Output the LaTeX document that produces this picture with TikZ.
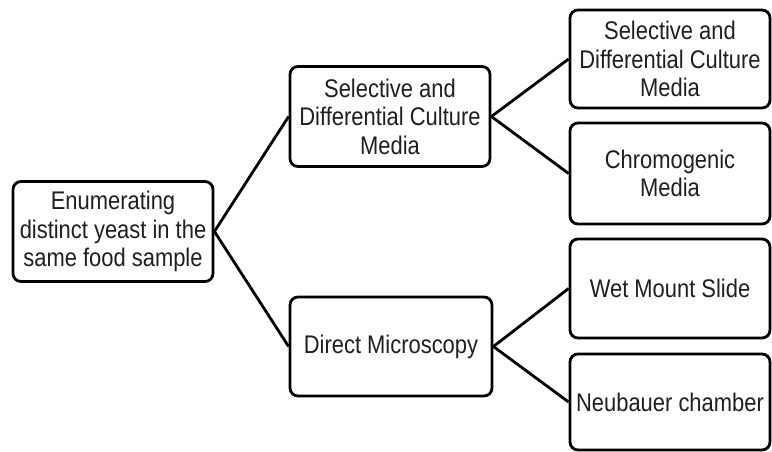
\documentclass[tikz,border=0pt]{standalone}
\usepackage{fontspec}
\setmainfont[FakeStretch=0.86]{Liberation Sans}
\begin{document}
\begin{tikzpicture}[x=1pt,y=1pt,
  box/.style={draw=black, line width=2.8pt, rounded corners=8pt, fill=white,
    minimum width=200pt, minimum height=100pt, inner sep=0pt, align=center,
    text=black!88, font=\fontsize{25.5}{28.5}\selectfont},
  link/.style={draw=black, line width=2.8pt}]
\useasboundingbox (0,0) rectangle (772,-451);
\node[box] (root) at (113,-231.5) {Enumerating\\distinct yeast in the\\same food sample};
\node[box] (sel) at (390,-116.5) {Selective and\\Differential Culture\\Media};
\node[box, minimum width=202pt, minimum height=99pt] (dm) at (391,-346.5) {Direct Microscopy};
\node[box, minimum height=98pt] (r1) at (670,-59) {Selective and\\Differential Culture\\Media};
\node[box, minimum height=101pt] (r2) at (670,-173.5) {Chromogenic\\Media};
\node[box, minimum height=99pt] (r3) at (670,-288.5) {Wet Mount Slide};
\node[box, minimum height=96pt] (r4) at (670,-402) {Neubauer chamber};
\draw[link] (root.east) -- (sel.west);
\draw[link] (root.east) -- (dm.west);
\draw[link] (sel.east) -- (r1.west);
\draw[link] (sel.east) -- (r2.west);
\draw[link] (dm.east) -- (r3.west);
\draw[link] (dm.east) -- (r4.west);
\end{tikzpicture}
\end{document}
